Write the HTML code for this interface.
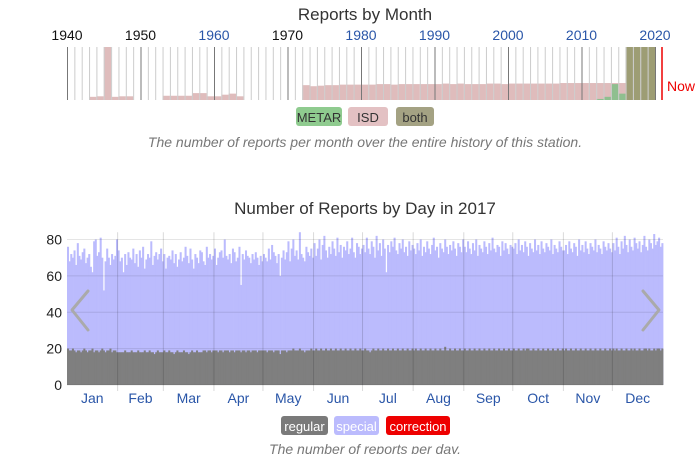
<!DOCTYPE html>
<html><head><meta charset="utf-8">
<style>
body{margin:0;background:#fff;width:695px;height:454px;overflow:hidden;font-family:"Liberation Sans",sans-serif;}
svg text{font-family:"Liberation Sans",sans-serif;}
</style></head>
<body>
<svg id="topchart" width="695" height="160" style="position:absolute;left:0;top:0"></svg>
<svg id="botchart" width="695" height="294" style="position:absolute;left:0;top:160"></svg>
<script>
// ===== Top chart data =====
const decadeLabels = [1940,1950,1960,1970,1980,1990,2000,2010,2020];
const isdYears   = [1943,1944,1945,1946,1947,1948,1953,1954,1955,1956,1957,1958,1959,1960,1961,1962,1963,1972,1973,1974,1975,1976,1977,1978,1979,1980,1981,1982,1983,1984,1985,1986,1987,1988,1989,1990,1991,1992,1993,1994,1995,1996,1997,1998,1999,2000,2001,2002,2003,2004,2005,2006,2007,2008,2009,2010,2011,2012,2013,2014,2015];
const isdValues  = [60,70,1000,60,70,70,80,80,80,80,130,130,70,70,100,120,70,280,260,270,280,280,290,290,290,290,290,300,300,290,300,300,300,300,300,300,310,300,310,300,300,300,310,310,300,310,310,310,310,310,310,310,320,320,320,320,320,320,320,320,320];
const metarYears = [2012,2013,2014,2015];
const metarValues= [20,60,300,120];
const bothYears  = [2016,2017,2018,2019];
const bothValues = [1000,1000,1000,1000];

// ===== Bottom chart data =====
const monthLabels = ["Jan","Feb","Mar","Apr","May","Jun","Jul","Aug","Sep","Oct","Nov","Dec"];
const yTicks = [0,20,40,60,80];
const totals = [
76,68,72,70,74,66,78,71,69,73,75,67,70,72,65,62,79,80,71,73,81,70,52,68,75,70,66,72,69,71,80,
74,68,70,62,72,66,73,70,69,75,67,72,65,74,70,76,64,69,72,70,79,66,71,73,69,72,75,68,
72,64,70,71,69,74,67,72,65,69,73,68,70,76,71,67,75,69,64,72,70,67,74,73,68,66,76,70,72,69,71,
75,66,70,73,74,70,80,71,69,72,67,75,73,68,70,76,55,72,69,74,71,70,67,72,69,73,70,66,71,68,
72,70,68,75,69,77,73,71,67,72,60,70,74,69,73,79,68,75,80,71,74,69,84,72,70,68,76,73,71,75,70,
78,71,75,80,69,77,82,74,70,76,72,79,75,71,81,73,77,70,76,74,79,72,75,81,73,70,78,76,72,75,
77,73,81,75,72,79,76,70,82,74,78,71,80,75,62,77,73,79,76,81,74,72,78,75,80,73,76,71,79,74,77,
75,72,78,74,80,71,76,73,79,75,72,77,81,74,76,70,78,75,73,80,76,72,77,74,79,75,71,78,76,73,80,
76,73,79,75,72,78,74,80,71,77,75,73,79,76,72,78,74,81,75,73,77,76,71,79,74,78,75,72,77,76,
75,78,72,80,74,77,73,79,76,71,78,75,73,80,74,77,72,79,75,73,78,76,74,80,72,77,75,73,79,76,74,
74,77,72,79,75,73,78,76,71,80,74,77,73,79,75,72,78,76,74,80,73,77,75,72,79,76,74,78,75,73,
78,74,81,76,72,79,75,82,77,73,80,76,74,81,78,75,79,73,77,82,76,74,80,78,75,83,77,79,81,76,78];
const regular = [
20,19,19,20,19,18,19,19,18,19,20,19,18,19,19,20,18,19,19,18,19,20,19,18,19,19,20,18,19,19,18,
18,18,18,18,19,18,18,18,19,18,18,18,19,18,18,18,19,18,18,19,18,18,17,18,19,18,18,18,
19,18,18,19,18,18,17,18,19,18,18,18,19,18,18,17,18,19,18,18,19,18,18,18,19,19,18,19,19,18,19,
19,19,18,19,19,18,19,19,19,18,19,19,18,19,19,19,18,19,19,18,19,19,18,19,19,19,18,19,19,19,
19,19,18,19,19,19,18,19,19,19,17,19,19,19,18,19,19,19,20,19,19,19,20,19,19,18,19,19,19,20,19,
19,20,19,19,20,19,19,20,19,19,20,19,19,20,19,19,20,19,19,20,19,19,20,19,19,20,19,19,20,19,
19,20,19,19,18,19,20,19,19,20,19,19,20,19,19,20,19,19,20,19,19,20,19,19,20,19,19,20,19,19,20,
19,20,19,19,20,19,19,20,19,19,20,19,19,20,19,19,20,19,19,21,19,19,20,19,19,20,19,19,20,19,19,
20,19,19,20,19,19,20,19,19,20,19,19,20,19,19,20,19,19,20,19,19,20,19,19,20,19,19,20,19,19,
20,19,19,20,19,19,20,19,20,20,19,19,20,19,19,20,19,19,20,19,19,20,19,19,20,19,19,20,19,19,20,
19,20,19,19,20,19,19,20,19,19,20,19,19,20,19,19,20,19,19,20,19,19,20,19,19,20,19,19,20,19,
20,19,20,19,19,20,19,19,20,19,19,20,19,20,19,19,20,19,19,20,20,19,20,19,19,20,19,20,20,19,20];

const NS="http://www.w3.org/2000/svg";
function mk(p,tag,attrs){const e=document.createElementNS(NS,tag);for(const k in attrs)e.setAttribute(k,attrs[k]);p.appendChild(e);return e;}

// ----- top chart -----
const topSvg=document.getElementById('topchart');
const X0=67, YW=7.35, TY0=47, TY1=100, TMAX=1000;
const xy=y=>X0+(y-1940)*YW;
const ty=v=>TY1-(v/TMAX)*(TY1-TY0);
let t=mk(topSvg,'text',{x:365,y:20,'text-anchor':'middle','font-size':17,fill:'#333'});t.textContent="Reports by Month";


function bars(years,vals,color,name){years.forEach((y,i)=>{const r=mk(topSvg,'rect',{x:xy(y),y:ty(vals[i]),width:YW,height:TY1-ty(vals[i]),fill:color});

});}
bars(isdYears,isdValues,'#dfbcbc','isd-bar');
bars(bothYears,bothValues,'#9d9d74','both-bar');
bars(metarYears,metarValues,'#8fbf8f','metar-bar');
for(let y=1940;y<=2020;y++){const l=mk(topSvg,'line',{x1:xy(y)+0.5,x2:xy(y)+0.5,y1:TY0,y2:TY1,stroke:y%10===0?'#777':'#ccc','stroke-width':1});

}
decadeLabels.forEach(d=>{const dark=(d===1940||d===1950||d===1970);const e=mk(topSvg,'text',{x:xy(d),y:40,'text-anchor':'middle','font-size':14,fill:dark?'#111':'#2a56a8'});e.textContent=d;

});
let nl=mk(topSvg,'line',{x1:662,x2:662,y1:TY0,y2:TY1,stroke:'#e00','stroke-width':1.5});


t=mk(topSvg,'text',{x:667,y:91,'font-size':14,fill:'#e00'});t.textContent="Now";


[['METAR',296,46,'#8fcb8f'],['ISD',348,40,'#e3c1c3'],['both',396,38,'#a4a283']].forEach(([n,x,w,c])=>{
const g=mk(topSvg,'g',{});


mk(g,'rect',{x:x,y:107,width:w,height:19,rx:3,fill:c});
const tx=mk(g,'text',{x:x+w/2,y:122,'text-anchor':'middle','font-size':13,fill:'#333'});tx.textContent=n;});
t=mk(topSvg,'text',{x:365,y:147,'text-anchor':'middle','font-size':14,'font-style':'italic',fill:'#777'});t.textContent="The number of reports per month over the entire history of this station.";



// ----- bottom chart -----
const botSvg=document.getElementById('botchart');
const PX0=67, PX1=663, PY0=225, YMAX=80, PH=145.5;
const bx=d=>PX0+d*(PX1-PX0)/totals.length;
const by=v=>PY0-v/YMAX*PH;
const bw=(PX1-PX0)/totals.length;
t=mk(botSvg,'text',{x:365,y:54,'text-anchor':'middle','font-size':17,fill:'#333'});t.textContent="Number of Reports by Day in 2017";


totals.forEach((v,i)=>{const r=mk(botSvg,'rect',{x:bx(i),y:by(v),width:bw+0.4,height:by(0)-by(v),fill:'#bbbbfd'});

});
regular.forEach((v,i)=>{const r=mk(botSvg,'rect',{x:bx(i),y:by(v),width:bw+0.4,height:by(0)-by(v),fill:'#7f7f7f'});

});
yTicks.forEach(v=>{const l=mk(botSvg,'line',{x1:PX0,x2:PX1,y1:by(v),y2:by(v),stroke:'rgba(0,0,0,0.1)'});


const e=mk(botSvg,'text',{x:62,y:by(v)+5,'text-anchor':'end','font-size':14,fill:'#222'});e.textContent=v;

});
const mdays=[31,28,31,30,31,30,31,31,30,31,30,31];
let acc=0;
mdays.forEach((d,i)=>{
 if(i>0){const l=mk(botSvg,'line',{x1:bx(acc),x2:bx(acc),y1:by(84),y2:by(0)+6,stroke:'rgba(0,0,0,0.15)'});
 
 }
 const e=mk(botSvg,'text',{x:bx(acc+d/2),y:243,'text-anchor':'middle','font-size':14,fill:'#2a56a8'});e.textContent=monthLabels[i];
 
 
 acc+=d;});
let c=mk(botSvg,'polyline',{points:'88,131 72,150 88,170',fill:'none',stroke:'#aaa','stroke-width':3,'stroke-linejoin':'round','stroke-linecap':'round'});


c=mk(botSvg,'polyline',{points:'643,131 659,150 643,170',fill:'none',stroke:'#aaa','stroke-width':3,'stroke-linejoin':'round','stroke-linecap':'round'});


[['regular',281,47,'#7a7a7a','#fff'],['special',334,45,'#bbbbfd','#fff'],['correction',386,64,'#ee0000','#fff']].forEach(([n,x,w,c2,f])=>{
const g=mk(botSvg,'g',{});


mk(g,'rect',{x:x,y:256,width:w,height:19,rx:3,fill:c2});
const tx=mk(g,'text',{x:x+w/2,y:271,'text-anchor':'middle','font-size':13,fill:f});tx.textContent=n;});
t=mk(botSvg,'text',{x:365,y:294,'text-anchor':'middle','font-size':14,'font-style':'italic',fill:'#777'});t.textContent="The number of reports per day.";


</script>
</body></html>
